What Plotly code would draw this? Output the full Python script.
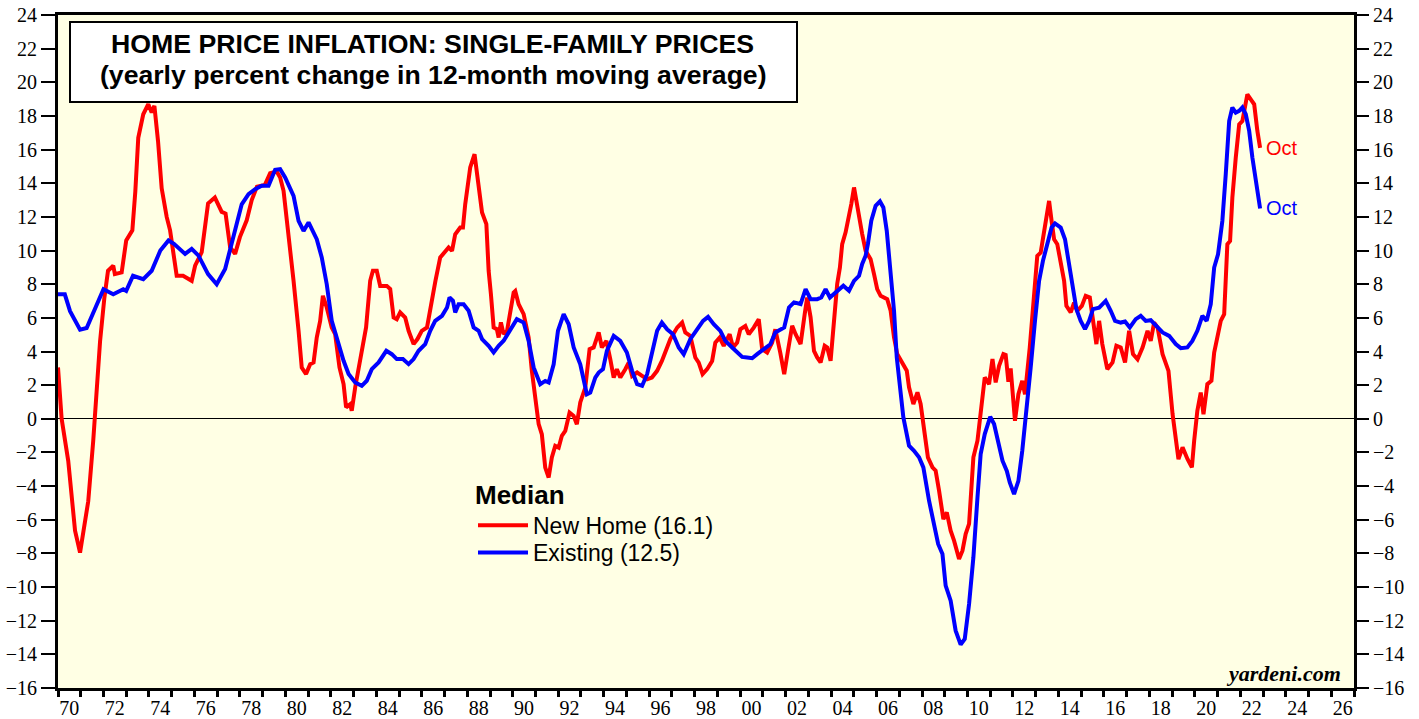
import plotly.graph_objects as go

# ---------------- data ----------------
new_home_dates = [
    1970.0, 1970.16, 1970.45, 1970.6, 1970.75, 1970.97, 1971.33, 1971.55, 1971.7, 1971.85,
    1972.04, 1972.2, 1972.43, 1972.5, 1972.8, 1973.0, 1973.27, 1973.4, 1973.53, 1973.75,
    1973.97, 1974.12, 1974.24, 1974.4, 1974.56, 1974.78, 1974.93, 1975.08, 1975.22, 1975.5,
    1975.88, 1976.03, 1976.32, 1976.6, 1976.9, 1977.2, 1977.37, 1977.57, 1977.79, 1978.0,
    1978.3, 1978.52, 1978.75, 1979.1, 1979.33, 1979.62, 1979.77, 1979.92, 1980.14, 1980.36,
    1980.58, 1980.72, 1980.91, 1981.09, 1981.24, 1981.38, 1981.53, 1981.65, 1981.82, 1982.04,
    1982.19, 1982.38, 1982.56, 1982.67, 1982.85, 1982.92, 1983.07, 1983.29, 1983.55, 1983.73,
    1983.85, 1984.02, 1984.17, 1984.46, 1984.61, 1984.76, 1984.9, 1985.05, 1985.27, 1985.42,
    1985.64, 1985.81, 1986.0, 1986.23, 1986.37, 1986.6, 1986.81, 1987.03, 1987.18, 1987.33,
    1987.47, 1987.69, 1987.81, 1987.91, 1988.13, 1988.32, 1988.53, 1988.65, 1988.84, 1988.94,
    1989.04, 1989.16, 1989.3, 1989.38, 1989.48, 1989.6, 1989.75, 1989.89, 1990.04, 1990.11,
    1990.26, 1990.48, 1990.7, 1990.84, 1990.99, 1991.14, 1991.28, 1991.43, 1991.58, 1991.72,
    1991.87, 1992.02, 1992.16, 1992.31, 1992.5, 1992.68, 1992.82, 1992.97, 1993.19, 1993.38,
    1993.56, 1993.78, 1993.92, 1994.12, 1994.29, 1994.44, 1994.58, 1994.73, 1994.95, 1995.1,
    1995.25, 1995.47, 1995.69, 1995.91, 1996.12, 1996.35, 1996.56, 1996.79, 1996.93, 1997.23,
    1997.45, 1997.59, 1997.81, 1998.03, 1998.18, 1998.35, 1998.55, 1998.77, 1998.91, 1999.1,
    1999.28, 1999.54, 1999.69, 1999.87, 2000.01, 2000.23, 2000.38, 2000.6, 2000.82, 2000.97,
    2001.19, 2001.41, 2001.55, 2001.77, 2001.94, 2002.1, 2002.29, 2002.44, 2002.66, 2002.84,
    2002.95, 2003.1, 2003.25, 2003.39, 2003.54, 2003.72, 2003.83, 2003.98, 2004.13, 2004.27,
    2004.39, 2004.49, 2004.64, 2004.79, 2004.89, 2005.01, 2005.13, 2005.27, 2005.37, 2005.52,
    2005.74, 2005.89, 2006.03, 2006.18, 2006.47, 2006.62, 2006.77, 2006.91, 2007.13, 2007.33,
    2007.43, 2007.62, 2007.8, 2007.94, 2008.12, 2008.26, 2008.46, 2008.6, 2008.75, 2008.94,
    2009.09, 2009.26, 2009.41, 2009.63, 2009.78, 2009.92, 2010.07, 2010.26, 2010.44, 2010.58,
    2010.76, 2010.95, 2011.1, 2011.24, 2011.39, 2011.58, 2011.68, 2011.8, 2011.9, 2012.09,
    2012.24, 2012.41, 2012.53, 2012.74, 2012.93, 2013.07, 2013.22, 2013.37, 2013.48, 2013.59,
    2013.7, 2013.81, 2013.95, 2014.1, 2014.25, 2014.35, 2014.54, 2014.69, 2014.83, 2015.03,
    2015.2, 2015.38, 2015.52, 2015.67, 2015.79, 2015.93, 2016.15, 2016.38, 2016.55, 2016.74,
    2016.93, 2017.11, 2017.28, 2017.48, 2017.7, 2017.92, 2018.06, 2018.21, 2018.36, 2018.58,
    2018.84, 2019.02, 2019.28, 2019.46, 2019.68, 2019.87, 2019.97, 2020.11, 2020.26, 2020.38,
    2020.55, 2020.73, 2020.85, 2021.0, 2021.14, 2021.29, 2021.43, 2021.55, 2021.65, 2021.8,
    2021.95, 2022.09, 2022.2, 2022.31, 2022.46, 2022.61, 2022.75, 2022.87,
]
new_home_values = [
    3.05, 0.0, -2.5, -4.9, -6.65, -7.95, -4.9, -1.3, 1.66, 4.6,
    7.2, 8.8, 9.1, 8.6, 8.7, 10.6, 11.2, 13.5, 16.7, 18.1,
    18.7, 18.2, 18.6, 16.5, 13.7, 12.0, 11.2, 9.6, 8.5, 8.5,
    8.2, 9.1, 9.9, 12.8, 13.15, 12.3, 12.2, 10.2, 9.8, 10.8,
    11.8, 13.0, 13.8, 13.9, 14.6, 14.7, 14.34, 13.55, 10.97, 8.2,
    5.23, 3.05, 2.66, 3.25, 3.35, 4.83, 5.82, 7.31, 6.62, 5.43,
    5.03, 3.05, 2.06, 0.68, 0.87, 0.48, 1.86, 3.65, 5.43, 8.2,
    8.8, 8.8, 7.9, 7.9, 7.71, 6.02, 5.92, 6.32, 6.02, 5.23,
    4.44, 4.74, 5.23, 5.43, 6.62, 8.2, 9.59, 9.98, 10.18, 9.98,
    10.97, 11.37, 11.37, 12.76, 14.94, 15.73, 13.45, 12.26, 11.57, 8.8,
    7.41, 5.43, 5.33, 4.83, 5.73, 5.03, 5.23, 6.4, 7.51, 7.6,
    6.81, 6.22, 4.83, 2.85, 1.26, -0.32, -0.92, -2.9, -3.49, -2.3,
    -1.61, -1.71, -1.01, -0.72, 0.37, 0.17, -0.32, 0.97, 1.86, 4.14,
    4.24, 5.13, 4.24, 4.63, 3.54, 2.45, 2.95, 2.45, 2.95, 3.34,
    2.55, 2.75, 2.55, 2.35, 2.45, 2.85, 3.44, 4.24, 4.73, 5.42,
    5.72, 5.13, 4.93, 3.64, 3.34, 2.65, 2.95, 3.44, 4.53, 4.83,
    4.33, 5.03, 4.24, 4.53, 5.32, 5.52, 5.03, 5.42, 5.92, 4.14,
    3.94, 4.53, 5.32, 3.9, 2.65, 4.0, 5.53, 5.03, 4.44, 6.22,
    7.21, 6.03, 4.04, 3.65, 3.35, 4.34, 4.24, 3.45, 5.83, 8.01,
    9.0, 10.38, 11.08, 11.97, 12.76, 13.75, 12.76, 11.97, 10.98, 9.99,
    9.49, 8.6, 7.71, 7.31, 7.11, 6.42, 4.84, 3.85, 3.35, 2.86,
    1.87, 0.88, 1.57, 0.88, -0.91, -2.29, -2.89, -3.08, -4.27, -5.96,
    -5.56, -6.65, -7.24, -8.33, -7.84, -6.85, -6.25, -2.29, -1.3, 0.48,
    2.46, 2.06, 3.55, 2.16, 3.15, 3.85, 3.8, 2.2, 3.0, -0.12,
    1.46, 2.26, 1.46, 4.24, 7.41, 9.68, 9.88, 11.07, 11.76, 12.95,
    11.76, 10.67, 10.38, 9.19, 8.2, 6.71, 6.32, 6.91, 6.42, 6.71,
    7.31, 7.21, 5.82, 4.44, 5.82, 4.44, 2.95, 3.35, 4.34, 4.24,
    3.35, 5.23, 3.84, 3.54, 4.24, 5.23, 4.63, 5.72, 5.43, 3.84,
    2.85, 0.28, -2.4, -1.7, -2.4, -2.89, -1.31, 0.47, 1.56, 0.27,
    2.06, 2.26, 3.94, 4.93, 5.82, 6.22, 10.38, 10.57, 13.15, 15.53,
    17.5, 17.7, 18.5, 19.29, 18.99, 18.69, 17.11, 16.1,
]

existing_dates = [
    1970.0, 1970.3, 1970.53, 1970.97, 1971.26, 1971.63, 1972.0, 1972.43, 1972.87, 1973.0,
    1973.3, 1973.75, 1974.12, 1974.5, 1974.86, 1975.1, 1975.59, 1975.88, 1976.18, 1976.6,
    1976.98, 1977.35, 1977.72, 1978.08, 1978.38, 1978.67, 1978.96, 1979.26, 1979.55, 1979.77,
    1979.99, 1980.14, 1980.36, 1980.58, 1980.8, 1981.02, 1981.16, 1981.38, 1981.6, 1981.82,
    1982.04, 1982.34, 1982.56, 1982.78, 1983.07, 1983.36, 1983.58, 1983.8, 1984.1, 1984.44,
    1984.68, 1984.9, 1985.17, 1985.42, 1985.64, 1985.86, 1986.15, 1986.37, 1986.59, 1986.89,
    1987.11, 1987.22, 1987.37, 1987.47, 1987.62, 1987.84, 1988.06, 1988.28, 1988.5, 1988.65,
    1988.94, 1989.16, 1989.38, 1989.6, 1989.89, 1990.18, 1990.48, 1990.7, 1990.92, 1991.21,
    1991.43, 1991.58, 1991.8, 1991.99, 1992.24, 1992.46, 1992.68, 1992.97, 1993.26, 1993.41,
    1993.63, 1993.78, 1993.97, 1994.14, 1994.44, 1994.73, 1995.02, 1995.25, 1995.47, 1995.69,
    1995.91, 1996.12, 1996.35, 1996.56, 1996.79, 1997.05, 1997.3, 1997.52, 1997.81, 1998.11,
    1998.37, 1998.59, 1998.84, 1999.13, 1999.35, 1999.65, 1999.87, 2000.09, 2000.31, 2000.53,
    2000.75, 2001.04, 2001.33, 2001.55, 2001.77, 2001.94, 2002.15, 2002.37, 2002.66, 2002.88,
    2003.1, 2003.39, 2003.57, 2003.76, 2003.95, 2004.2, 2004.54, 2004.79, 2005.01, 2005.23,
    2005.37, 2005.52, 2005.62, 2005.77, 2005.96, 2006.15, 2006.3, 2006.45, 2006.62, 2006.77,
    2006.89, 2007.03, 2007.18, 2007.43, 2007.65, 2007.87, 2008.06, 2008.31, 2008.53, 2008.71,
    2008.9, 2009.04, 2009.26, 2009.48, 2009.7, 2009.88, 2010.07, 2010.26, 2010.44, 2010.58,
    2010.76, 2011.0, 2011.17, 2011.35, 2011.54, 2011.73, 2011.86, 2012.05, 2012.24, 2012.41,
    2012.59, 2012.78, 2012.97, 2013.15, 2013.32, 2013.51, 2013.7, 2013.85, 2014.1, 2014.29,
    2014.47, 2014.61, 2014.79, 2014.98, 2015.17, 2015.35, 2015.52, 2015.79, 2016.08, 2016.3,
    2016.49, 2016.74, 2016.93, 2017.14, 2017.4, 2017.62, 2017.84, 2018.06, 2018.28, 2018.58,
    2018.87, 2019.16, 2019.38, 2019.67, 2019.89, 2020.11, 2020.33, 2020.52, 2020.7, 2020.85,
    2021.02, 2021.21, 2021.36, 2021.51, 2021.65, 2021.8, 2021.95, 2022.09, 2022.24, 2022.39,
    2022.53, 2022.68, 2022.87,
]
existing_values = [
    7.4, 7.4, 6.4, 5.3, 5.4, 6.5, 7.7, 7.4, 7.7, 7.6,
    8.5, 8.3, 8.8, 10.0, 10.6, 10.4, 9.8, 10.1, 9.7, 8.6,
    8.0, 8.9, 10.8, 12.75, 13.35, 13.65, 13.85, 13.85, 14.8, 14.84,
    14.34, 13.85, 13.25, 11.77, 11.17, 11.67, 11.27, 10.68, 9.59, 8.0,
    5.82, 4.44, 3.45, 2.66, 2.16, 1.96, 2.26, 2.95, 3.35, 4.04,
    3.84, 3.55, 3.55, 3.25, 3.55, 4.04, 4.44, 5.23, 5.82, 6.12,
    6.62, 7.21, 7.01, 6.32, 6.81, 6.81, 6.42, 5.43, 5.23, 4.74,
    4.34, 3.94, 4.34, 4.64, 5.3, 5.92, 5.72, 4.63, 3.05, 2.06,
    2.25, 2.16, 3.24, 5.23, 6.22, 5.62, 4.24, 3.24, 1.46, 1.56,
    2.45, 2.75, 2.95, 4.04, 4.93, 4.63, 3.94, 2.85, 2.06, 1.96,
    2.65, 3.84, 5.23, 5.72, 5.32, 5.03, 4.24, 3.84, 4.73, 5.32,
    5.82, 6.06, 5.62, 5.23, 4.63, 4.24, 3.94, 3.68, 3.64, 3.6,
    3.84, 4.14, 4.43, 5.13, 5.3, 5.43, 6.62, 6.92, 6.82, 7.71,
    7.11, 7.11, 7.21, 7.71, 7.21, 7.51, 7.91, 7.61, 8.2, 8.5,
    9.2, 9.69, 10.38, 11.77, 12.66, 12.92, 12.56, 11.17, 8.8, 6.42,
    3.65, 1.67, 0.08, -1.6, -1.9, -2.29, -2.89, -4.87, -6.25, -7.44,
    -8.04, -9.92, -10.81, -12.59, -13.42, -13.09, -11.01, -8.23, -4.67, -2.1,
    -0.91, 0.12, -0.31, -1.5, -2.49, -3.1, -3.78, -4.47, -3.69, -1.9,
    0.28, 3.05, 5.82, 8.2, 9.39, 10.48, 11.37, 11.61, 11.37, 10.67,
    9.19, 7.8, 6.52, 5.82, 5.33, 5.82, 6.52, 6.61, 7.01, 6.42,
    5.82, 5.72, 5.78, 5.43, 5.92, 6.12, 5.82, 5.86, 5.58, 5.13,
    4.93, 4.44, 4.2, 4.24, 4.63, 5.23, 6.12, 5.82, 6.81, 8.99,
    9.78, 11.76, 14.54, 17.7, 18.5, 18.2, 18.3, 18.5, 18.1, 17.11,
    15.53, 14.14, 12.5,
]

series_names = ["New Home (16.1)", "Existing (12.5)"]
series_colors = ["#FF0000", "#0000FF"]
end_label = "Oct"

y_ticks = [-16, -14, -12, -10, -8, -6, -4, -2, 0, 2, 4, 6, 8, 10, 12, 14, 16, 18, 20, 22, 24]
x_tick_years = list(range(1970, 2028))
x_label_years = [1970, 1972, 1974, 1976, 1978, 1980, 1982, 1984, 1986, 1988, 1990, 1992, 1994,
                 1996, 1998, 2000, 2002, 2004, 2006, 2008, 2010, 2012, 2014, 2016, 2018, 2020,
                 2022, 2024, 2026]
x_label_text = ["70", "72", "74", "76", "78", "80", "82", "84", "86", "88", "90", "92", "94",
                "96", "98", "00", "02", "04", "06", "08", "10", "12", "14", "16", "18", "20",
                "22", "24", "26"]

title_line1 = "HOME PRICE INFLATION: SINGLE-FAMILY PRICES"
title_line2 = "(yearly percent change in 12-month moving average)"
legend_title = "Median"
source_text = "yardeni.com"

# ---------------- figure ----------------
SANS = "Liberation Sans, Arial, sans-serif"
SERIF = "Liberation Serif, Times New Roman, serif"
BG = "#FFFFE4"


def px_x(p):
    return (p - 58) / 1296


def px_y(p):
    return (688 - p) / 673


fig = go.Figure()
fig.add_trace(go.Scatter(x=new_home_dates, y=new_home_values, mode="lines",
                         name=series_names[0], line=dict(color=series_colors[0], width=4),
                         legend="legend", hoverinfo="skip"))
fig.add_trace(go.Scatter(x=existing_dates, y=existing_values, mode="lines",
                         name=series_names[1], line=dict(color=series_colors[1], width=4),
                         legend="legend2", hoverinfo="skip"))
# helper traces so the overlay axes (bottom labels, right-hand scale) are drawn
fig.add_trace(go.Scatter(x=[x_tick_years[0]], y=[None], xaxis="x2", yaxis="y",
                         showlegend=False, hoverinfo="skip"))
fig.add_trace(go.Scatter(x=[x_tick_years[0]], y=[None], xaxis="x", yaxis="y2",
                         showlegend=False, hoverinfo="skip"))

xr = [x_tick_years[0], x_tick_years[-1]]
yr = [y_ticks[0], y_ticks[-1]]

legend_common = dict(xanchor="left", yanchor="top", bgcolor="rgba(0,0,0,0)", borderwidth=0,
                     itemwidth=50, font=dict(family=SANS, size=23, color="black"),
                     itemclick=False, itemdoubleclick=False)

fig.update_layout(
    width=1419, height=719,
    margin=dict(l=58, r=65, t=15, b=31, pad=0, autoexpand=False),
    paper_bgcolor="white", plot_bgcolor=BG,
    showlegend=True,
    legend=dict(x=px_x(473), y=px_y(470),
                title=dict(text="<b>" + legend_title + "</b>",
                           font=dict(family=SANS, size=26, color="black")),
                **legend_common),
    legend2=dict(x=px_x(473), y=px_y(531), **legend_common),
    xaxis=dict(range=xr, tickmode="array", tickvals=x_tick_years, showticklabels=False,
               ticks="outside", ticklen=6, tickwidth=3, tickcolor="black",
               showline=True, linecolor="black", linewidth=3, mirror=True,
               showgrid=False, zeroline=False, fixedrange=True, automargin=False),
    xaxis2=dict(range=xr, overlaying="x", side="bottom", anchor="y", tickmode="array",
                tickvals=[y + 0.5 for y in x_label_years], ticktext=x_label_text,
                ticks="outside", ticklen=2, tickcolor="rgba(0,0,0,0)",
                tickfont=dict(family=SERIF, size=20, color="black"),
                showline=False, showgrid=False, zeroline=False, fixedrange=True,
                automargin=False),
    yaxis=dict(range=yr, tickmode="array", tickvals=y_ticks,
               ticks="outside", ticklen=14, tickwidth=2, tickcolor="black",
               tickfont=dict(family=SERIF, size=20, color="black"),
               showline=True, linecolor="black", linewidth=3, mirror=True,
               showgrid=False, zeroline=True, zerolinecolor="black", zerolinewidth=1.2,
               fixedrange=True, automargin=False),
    yaxis2=dict(range=yr, overlaying="y", side="right", anchor="x", tickmode="array",
                tickvals=y_ticks, ticks="outside", ticklen=14, tickwidth=2, tickcolor="black",
                tickfont=dict(family=SERIF, size=20, color="black"),
                showline=False, showgrid=False, zeroline=False, fixedrange=True,
                automargin=False),
)

# title box
fig.add_shape(type="rect", xref="paper", yref="paper",
              x0=px_x(70), x1=px_x(797), y0=px_y(102), y1=px_y(22),
              line=dict(color="black", width=2), fillcolor="white", layer="above")
fig.add_annotation(xref="paper", yref="paper", x=px_x(432), y=px_y(44),
                   text="<b>" + title_line1 + "</b>", showarrow=False,
                   xanchor="center", yanchor="middle",
                   font=dict(family=SANS, size=26.7, color="black"))
fig.add_annotation(xref="paper", yref="paper", x=px_x(433), y=px_y(75),
                   text="<b>" + title_line2 + "</b>", showarrow=False,
                   xanchor="center", yanchor="middle",
                   font=dict(family=SANS, size=26.6, color="black"))

# end-of-series labels
for xs, ys, col in [(new_home_dates, new_home_values, series_colors[0]),
                    (existing_dates, existing_values, series_colors[1])]:
    fig.add_annotation(x=xs[-1], y=ys[-1], xref="x", yref="y", text=end_label,
                       showarrow=False, xanchor="left", yanchor="middle", xshift=4,
                       font=dict(family=SANS, size=20, color=col))

# source
fig.add_annotation(xref="paper", yref="paper", x=px_x(1343), y=px_y(673),
                   text="<b><i>" + source_text + "</i></b>", showarrow=False,
                   xanchor="right", yanchor="middle",
                   font=dict(family=SERIF, size=22, color="black"))

fig.write_html("out.html", config={"displayModeBar": False},
               post_script="document.body.style.margin='0';document.body.style.overflow='hidden';")
